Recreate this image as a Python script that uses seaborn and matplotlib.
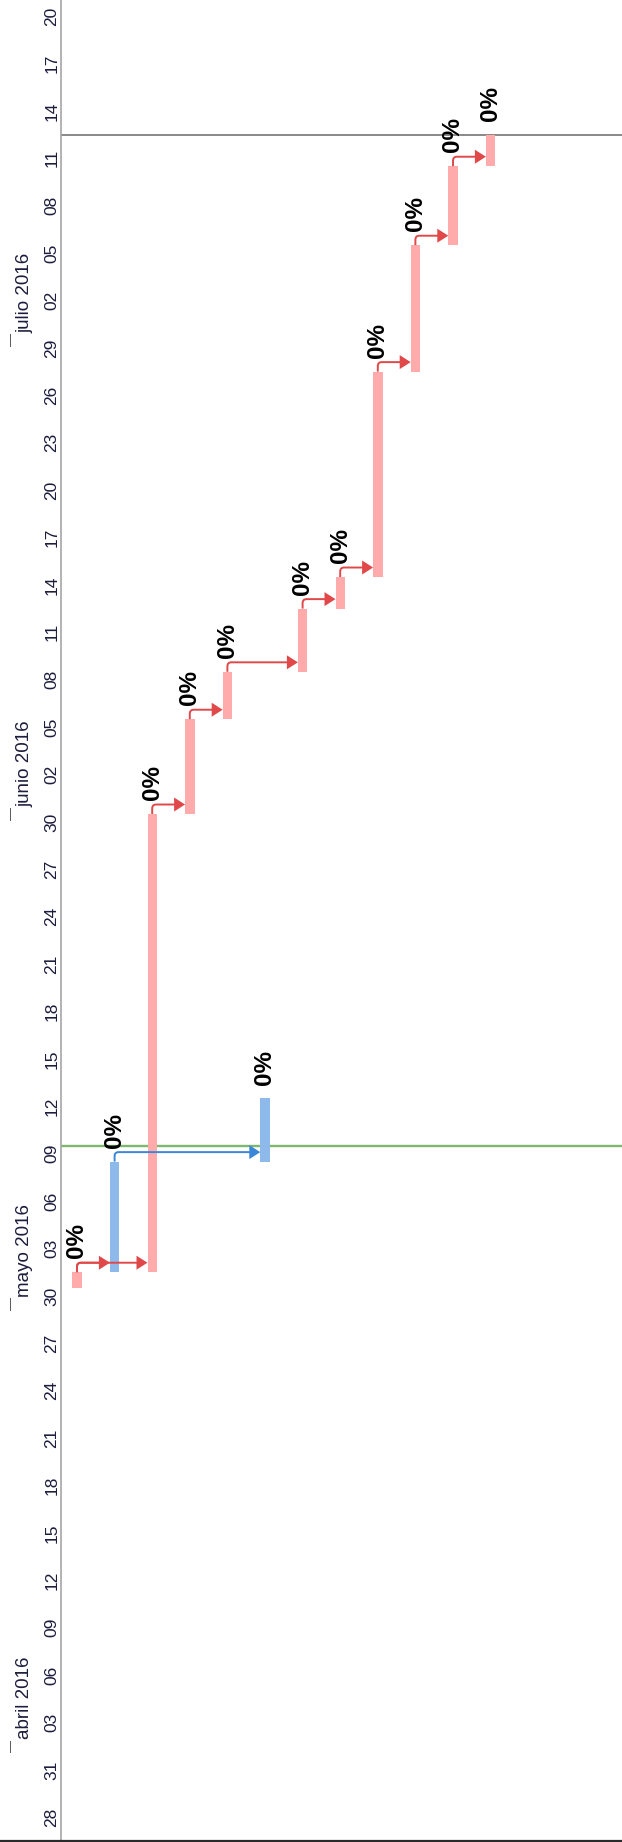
import numpy as np
import pandas as pd
import matplotlib
matplotlib.use("Agg")
import matplotlib.pyplot as plt
import matplotlib.dates as mdates
import matplotlib.transforms as mtransforms
from matplotlib.path import Path
from matplotlib.patches import PathPatch, Polygon, Rectangle
from matplotlib.lines import Line2D
from matplotlib.ticker import FixedLocator, FixedFormatter, NullFormatter
import seaborn as sns

# ---- schedule: one entry per row (rows run left to right, time runs upward) ----
starts = ["2016-05-02", "2016-05-03", "2016-05-03", "2016-06-01", "2016-06-07", "2016-05-10",
          "2016-06-10", "2016-06-14", "2016-06-16", "2016-06-29", "2016-07-07", "2016-07-12"]
finishes = ["2016-05-03", "2016-05-10", "2016-06-01", "2016-06-07", "2016-06-10", "2016-05-14",
            "2016-06-14", "2016-06-16", "2016-06-29", "2016-07-07", "2016-07-12", "2016-07-14"]
critical = [True, False, True, True, True, False, True, True, True, True, True, True]
complete_pct = [0, 0, 0, 0, 0, 0, 0, 0, 0, 0, 0, 0]
# finish-to-start dependencies (predecessor row, successor row)
links = [(0, 1), (0, 2), (1, 5), (2, 3), (3, 4), (4, 6), (6, 7), (7, 8), (8, 9), (9, 10), (10, 11)]

current_date = "2016-05-11"
status_date = "2016-07-14"

view_start = "2016-03-28"
view_end = "2016-07-23"
tick_step_days = 3
month_names = ["abril 2016", "mayo 2016", "junio 2016", "julio 2016"]
month_marks = ["2016-04-03", "2016-05-01", "2016-06-01", "2016-07-01"]

# ---- styling ----
sns.set_style("white")
plt.rcParams["font.family"] = ["Liberation Sans", "DejaVu Sans"]

W, H, DPI = 622, 1842, 100
PX_DAY = 15.8      # pixels per day (vertical)
PX_ROW = 37.6      # pixels per row (horizontal)
AX_LEFT = 61       # pixel position of the time axis

CRIT_BAR, NORM_BAR = "#FFABAB", "#8DBAEA"
CRIT_LINK, NORM_LINK = "#E0484A", "#3A86D8"
TEXT_COL = "#1C1C3C"

fig = plt.figure(figsize=(W / DPI, H / DPI), dpi=DPI)
fig.patch.set_facecolor("white")
ax = fig.add_axes([AX_LEFT / W, 0, (W - AX_LEFT) / W, 1])
ax.set_facecolor("white")

s_num = mdates.date2num(pd.to_datetime(starts))
f_num = mdates.date2num(pd.to_datetime(finishes))
rows = np.arange(len(starts))
dur = f_num - s_num

y_lo = mdates.date2num(pd.Timestamp(view_start)) - 1.0 / PX_DAY
y_hi = y_lo + H / PX_DAY
x_lo = -(77 - AX_LEFT) / PX_ROW
x_hi = x_lo + (W - AX_LEFT) / PX_ROW
ax.set_xlim(x_lo, x_hi)
ax.set_ylim(y_lo, y_hi)

# task bars
bar_w = 0.25
bar_cols = [CRIT_BAR if c else NORM_BAR for c in critical]
ax.bar(rows, dur, bottom=s_num, width=bar_w, color=bar_cols, linewidth=0, zorder=2)

# current-date and status-date lines
ax.axhline(mdates.date2num(pd.Timestamp(current_date)), color="#7DB86F", lw=1.7, zorder=1)
ax.axhline(mdates.date2num(pd.Timestamp(status_date)), color="#7F7F7F", lw=1.3, zorder=1)

# dependency connectors
rise = 0.6                 # days above predecessor finish
rx, ry = 4 / PX_ROW, 4 / PX_DAY
al, ah = 11 / PX_ROW, 7 / PX_DAY
for a, b in links:
    col = CRIT_LINK if critical[a] else NORM_LINK
    xa, ya = rows[a], f_num[a]
    y = ya + rise
    xt = rows[b] - bar_w / 2
    verts = [(xa, ya), (xa, y - ry), (xa, y), (xa + rx, y), (xt - al * 0.9, y)]
    codes = [Path.MOVETO, Path.LINETO, Path.CURVE3, Path.CURVE3, Path.LINETO]
    ax.add_patch(PathPatch(Path(verts, codes), fill=False, edgecolor=col, lw=1.4,
                           capstyle="butt", zorder=3))
    ax.add_patch(Polygon([(xt, y), (xt - al, y + ah), (xt - al, y - ah)], closed=True,
                         facecolor=col, edgecolor="none", zorder=4))

# percent-complete labels above each bar
for r, f, p in zip(rows, f_num, complete_pct):
    ax.annotate(f"{p}%", xy=(r, f), xytext=(0, 10), textcoords="offset points",
                rotation=90, ha="center", va="bottom", fontsize=17.5, fontweight="bold",
                color="black", zorder=5)

# time scale: tick marks every 3 days, labels centred in each cell
tick_dates = pd.date_range(view_start, view_end, freq=f"{tick_step_days}D")
tick_nums = mdates.date2num(tick_dates)
ax.yaxis.set_major_locator(FixedLocator(tick_nums))
ax.yaxis.set_major_formatter(NullFormatter())
ax.yaxis.set_minor_locator(FixedLocator(tick_nums + tick_step_days / 2))
ax.yaxis.set_minor_formatter(FixedFormatter([d.strftime("%d") for d in tick_dates]))
ax.tick_params(axis="y", which="major", length=26 * 72 / DPI, width=0.8,
               color="#A6A6A6", direction="out")
ax.tick_params(axis="y", which="minor", length=0, pad=1.2, labelsize=12.5,
               labelcolor=TEXT_COL, labelrotation=90)
for t in ax.yaxis.get_minor_ticks():
    t.label1.set_verticalalignment("center")
ax.set_xticks([])

for side in ["top", "right", "bottom"]:
    ax.spines[side].set_visible(False)
ax.spines["left"].set_color("#A6A6A6")
ax.spines["left"].set_linewidth(1.2)

# month tier: thin upright separator and label at each month boundary
trans = mtransforms.blended_transform_factory(fig.transFigure, ax.transData)
for name, mark in zip(month_names, month_marks):
    y = mdates.date2num(pd.Timestamp(mark))
    ax.text(24.5 / W, y + 0.45, name, transform=trans, rotation=90, ha="center",
            va="bottom", fontsize=13.5, color=TEXT_COL, clip_on=False)
    fig.add_artist(Rectangle((9.8 / W, y - 0.45), 1.4 / W, 0.8, transform=trans,
                             facecolor="#5E5E5E", edgecolor="none"))

# bottom frame line
fig.add_artist(Line2D([0, 1], [1.0 / H, 1.0 / H], transform=fig.transFigure,
                      color="#2A2A2A", lw=1.6))

fig.savefig("out.png", dpi=DPI, facecolor="white")
